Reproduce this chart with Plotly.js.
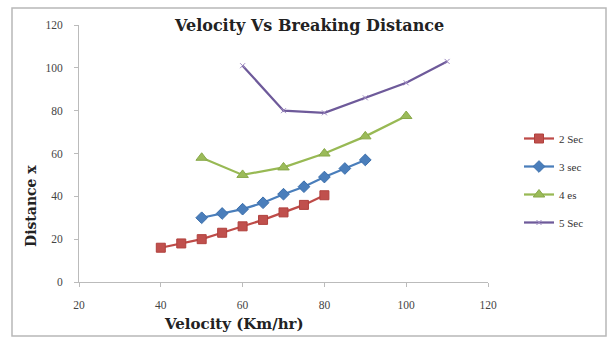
<!DOCTYPE html>
<html>
<head>
<meta charset="utf-8">
<script src="https://cdn.plot.ly/plotly-3.0.1.min.js"></script>
<style>html,body{margin:0;padding:0;background:#fff;}#chart{width:611px;height:338px;}</style>
</head>
<body>
<div id="chart"></div>
<script>
// Data
const seriesNames = ["2 Sec", "3 sec", "4 es", "5 Sec"];
const x2 = [40, 45, 50, 55, 60, 65, 70, 75, 80];
const y2 = [16, 18, 20, 23, 26, 29, 32.5, 36, 40.5];
const x3 = [50, 55, 60, 65, 70, 75, 80, 85, 90];
const y3 = [30, 32, 34, 37, 41, 44.5, 49, 53, 57];
const x4 = [50, 60, 70, 80, 90, 100];
const y4 = [58, 50, 53.5, 60, 68, 77.5];
const x5 = [60, 70, 80, 90, 100, 110];
const y5 = [101, 80, 79, 86, 93, 103];
const xTicks = [20, 40, 60, 80, 100, 120];
const yTicks = [0, 20, 40, 60, 80, 100, 120];

const L = 79, R = 123, T = 25, B = 56;
const W = 611, H = 338;
const pw = W - L - R, ph = H - T - B;
const px = v => (v - L) / pw;
const py = v => (H - B - v) / ph;

const serif = "Liberation Serif, DejaVu Serif, serif";
const boldSerif = "DejaVu Serif, serif";

const traces = [
  {x: x2, y: y2, name: seriesNames[0], mode: "lines+markers", legendgroup: "a",
   line: {color: "#BE4B48", width: 2.25},
   marker: {symbol: "square", size: 9, color: "#C0504D", line: {color: "#B0403D", width: 1}}},
  {x: x3, y: y3, name: seriesNames[1], mode: "lines+markers", legendgroup: "b",
   line: {color: "#4A7EBB", width: 2.25},
   marker: {symbol: "diamond", size: 9, color: "#4A7EBB", line: {color: "#3A6EAB", width: 1}}},
  {x: x4, y: y4, name: seriesNames[2], mode: "lines+markers", legendgroup: "c",
   line: {color: "#98B954", width: 2.25},
   marker: {symbol: "triangle-up", size: 10, color: "#9BBB59", line: {color: "#88A849", width: 1}}},
  {x: x5, y: y5, name: seriesNames[3], mode: "lines+markers", legendgroup: "d",
   line: {color: "#6E5A9A", width: 2.25},
   marker: {symbol: "x-thin", size: 5, color: "#8064A2", line: {color: "#9C88C0", width: 1}}}
];

const layout = {
  width: W, height: H,
  margin: {l: L, r: R, t: T, b: B, pad: 0},
  paper_bgcolor: "#ffffff", plot_bgcolor: "#ffffff",
  showlegend: true,
  legend: {x: px(519), y: py(124), xanchor: "left", yanchor: "top",
    font: {family: serif, size: 11, color: "#333"}, tracegroupgap: 9,
    bgcolor: "rgba(0,0,0,0)", itemwidth: 30},
  xaxis: {range: [20, 120], tickvals: xTicks, ticktext: xTicks.map(String),
    showgrid: false, zeroline: false, showline: true, linecolor: "#BBBBBB", linewidth: 1,
    ticks: "outside", ticklen: 4, tickcolor: "#BBBBBB", ticklabelstandoff: 8,
    tickfont: {family: serif, size: 11.5, color: "#444"}, fixedrange: true},
  yaxis: {range: [0, 120], tickvals: yTicks, ticktext: yTicks.map(String),
    showgrid: false, zeroline: false, showline: true, linecolor: "#BBBBBB", linewidth: 1,
    ticks: "outside", ticklen: 4, tickcolor: "#BBBBBB", ticklabelstandoff: 9,
    tickfont: {family: serif, size: 11.5, color: "#444"}, fixedrange: true},
  annotations: [
    {text: "<b>Velocity Vs Breaking Distance</b>", xref: "paper", yref: "paper",
     x: px(309), y: py(25), xanchor: "center", yanchor: "middle", showarrow: false,
     font: {family: boldSerif, size: 16, color: "#222"}},
    {text: "<b>Velocity (Km/hr)</b>", xref: "paper", yref: "paper",
     x: px(234), y: py(324), xanchor: "center", yanchor: "middle", showarrow: false,
     font: {family: boldSerif, size: 15, color: "#222"}},
    {text: "<b>Distance x</b>", xref: "paper", yref: "paper", textangle: -90,
     x: px(31), y: py(206), xanchor: "center", yanchor: "middle", showarrow: false,
     font: {family: boldSerif, size: 14, color: "#222"}}
  ],
  shapes: [
    {type: "rect", xref: "paper", yref: "paper", x0: px(12), x1: px(606), y0: py(336), y1: py(8),
     line: {color: "#B8B8B8", width: 1.5}, fillcolor: "rgba(0,0,0,0)", layer: "below"}
  ]
};

Plotly.newPlot("chart", traces, layout, {staticPlot: true, displayModeBar: false});
</script>
</body>
</html>
